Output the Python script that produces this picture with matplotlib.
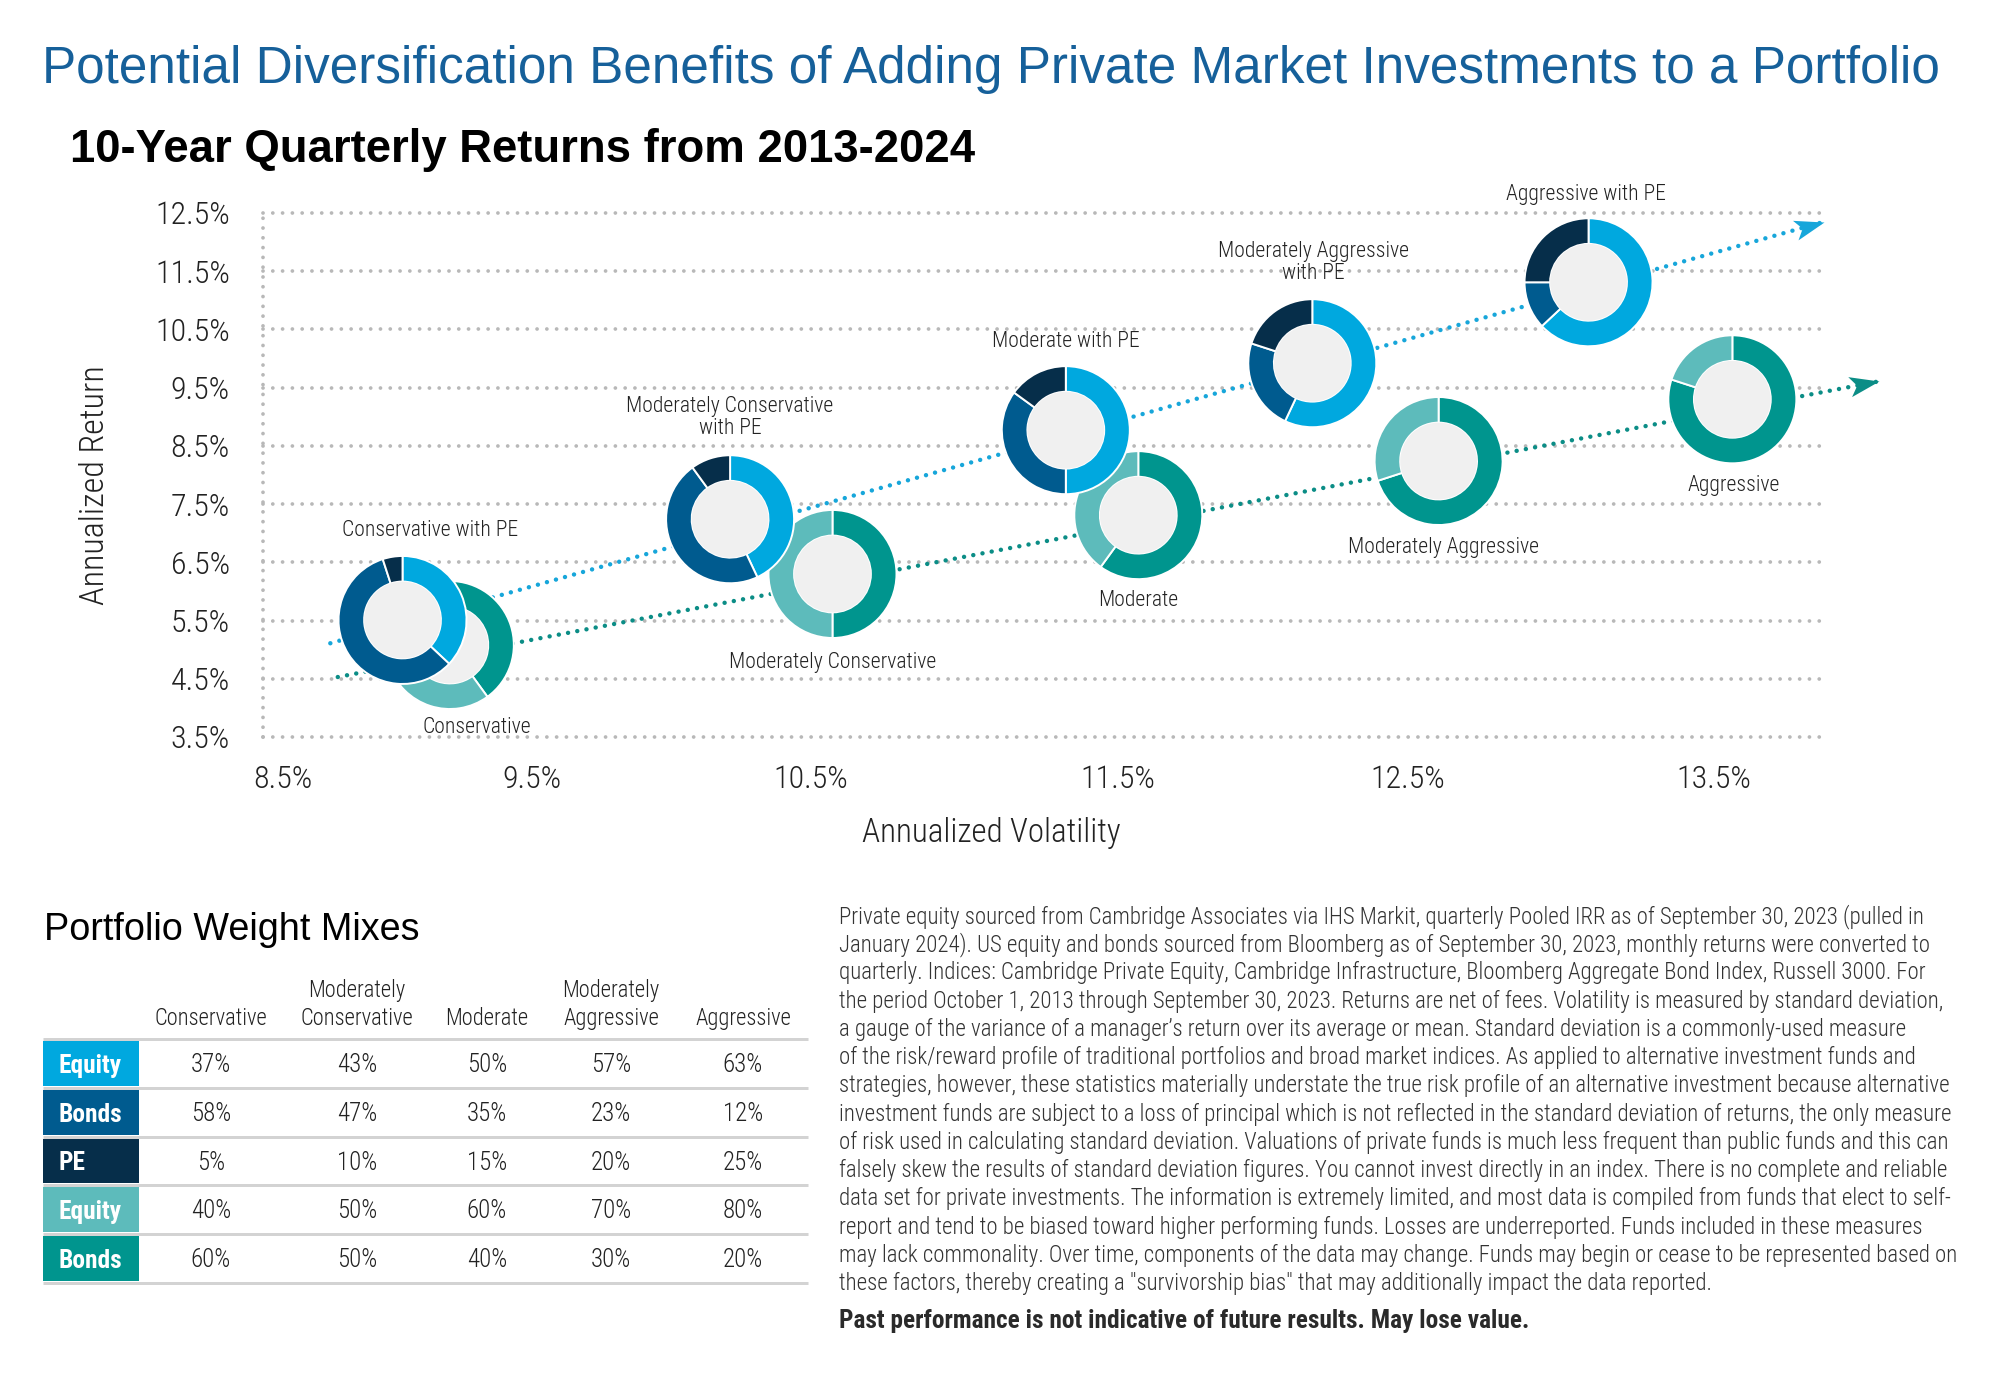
import math
import numpy as np
import matplotlib
matplotlib.use("Agg")
import matplotlib.pyplot as plt
from matplotlib import font_manager
from matplotlib.path import Path
from matplotlib.markers import MarkerStyle
from matplotlib.transforms import Affine2D
from matplotlib.patches import Circle, Rectangle

# ---------------------------------------------------------------- data
pe_labels = ["Conservative with PE", "Moderately Conservative\nwith PE", "Moderate with PE",
             "Moderately Aggressive\nwith PE", "Aggressive with PE"]
trad_labels = ["Conservative", "Moderately Conservative", "Moderate",
               "Moderately Aggressive", "Aggressive"]
header_labels = ["Conservative", "Moderately\nConservative", "Moderate",
                 "Moderately\nAggressive", "Aggressive"]

# annualized volatility (%) / annualized return (%)
pe_vol = [8.98, 10.21, 11.33, 12.17, 13.09]
pe_ret = [5.51, 7.24, 8.77, 9.92, 11.31]
trad_vol = [9.17, 10.57, 11.57, 12.60, 13.56]
trad_ret = [5.08, 6.30, 7.31, 8.24, 9.30]

# portfolio weights (%)
pe_equity = [37, 43, 50, 57, 63]
pe_bonds = [58, 47, 35, 23, 12]
pe_pe = [5, 10, 15, 20, 25]
trad_equity = [40, 50, 60, 70, 80]
trad_bonds = [60, 50, 40, 30, 20]

row_labels = ["Equity", "Bonds", "PE", "Equity", "Bonds"]

x_ticks = [8.5, 9.5, 10.5, 11.5, 12.5, 13.5]
y_ticks = [3.5, 4.5, 5.5, 6.5, 7.5, 8.5, 9.5, 10.5, 11.5, 12.5]

# trend arrows (vol, ret)
trend_pe = [(8.69, 5.11), (13.86, 12.35)]
trend_trad = [(8.72, 4.53), (14.04, 9.61)]

TITLE = "Potential Diversification Benefits of Adding Private Market Investments to a Portfolio"
SUBTITLE = "10-Year Quarterly Returns from 2013-2024"
TABLE_TITLE = "Portfolio Weight Mixes"
FOOTNOTE = [
    "Private equity sourced from Cambridge Associates via IHS Markit, quarterly Pooled IRR as of September 30, 2023 (pulled in",
    "January 2024). US equity and bonds sourced from Bloomberg as of September 30, 2023, monthly returns were converted to",
    "quarterly. Indices: Cambridge Private Equity, Cambridge Infrastructure, Bloomberg Aggregate Bond Index, Russell 3000. For",
    "the period October 1, 2013 through September 30, 2023. Returns are net of fees. Volatility is measured by standard deviation,",
    "a gauge of the variance of a manager\u2019s return over its average or mean. Standard deviation is a commonly-used measure",
    "of the risk/reward profile of traditional portfolios and broad market indices. As applied to alternative investment funds and",
    "strategies, however, these statistics materially understate the true risk profile of an alternative investment because alternative",
    "investment funds are subject to a loss of principal which is not reflected in the standard deviation of returns, the only measure",
    "of risk used in calculating standard deviation. Valuations of private funds is much less frequent than public funds and this can",
    "falsely skew the results of standard deviation figures. You cannot invest directly in an index. There is no complete and reliable",
    "data set for private investments. The information is extremely limited, and most data is compiled from funds that elect to self-",
    "report and tend to be biased toward higher performing funds. Losses are underreported. Funds included in these measures",
    "may lack commonality. Over time, components of the data may change. Funds may begin or cease to be represented based on",
    "these factors, thereby creating a \"survivorship bias\" that may additionally impact the data reported.",
]
BOLD_NOTE = "Past performance is not indicative of future results. May lose value."

# ---------------------------------------------------------------- style
C_EQ = "#00a8df"
C_BD = "#005b8f"
C_PE = "#062e4a"
C_TL = "#5dbbbb"
C_TD = "#00958e"
C_HOLE = "#f0f0f0"
C_GRID = "#b8b8b8"
C_TXT = "#222222"
C_TITLE = "#16609a"

W, H = 2000, 1378
PT = 0.72  # points per pixel at dpi 100

fig = plt.figure(figsize=(W / 100, H / 100), dpi=100)
fig.patch.set_facecolor("white")
renderer = fig.canvas.get_renderer()

names = {f.name for f in font_manager.fontManager.ttflist}


def pick(cands, default):
    for c in cands:
        if c in names:
            return c
    return default


COND = pick(["Roboto Condensed", "Liberation Sans Narrow", "Open Sans Condensed"], "Liberation Sans")
REG = pick(["Liberation Sans", "Arial"], "DejaVu Sans")
LW = "light"


def fit(text, family, target, weight="normal", base=20.0):
    t = fig.text(0, 0, text, fontsize=base, family=family, weight=weight)
    w = t.get_window_extent(renderer=renderer).width
    t.remove()
    return base * target / w


fs_title = fit(TITLE, REG, 1893)
fs_sub = fit(SUBTITLE, REG, 906, weight="bold")
fs_tick = fit("12.5%", COND, 75, weight=LW)
fs_axlab = fit("Annualized Volatility", COND, 258, weight=LW)
fs_lab = fit("Conservative with PE", COND, 176, weight=LW)
fs_ttl = fit(TABLE_TITLE, REG, 374)
fs_head = fit("Conservative", COND, 113, weight=LW)
fs_val = fit("37%", COND, 40, weight=LW)
fs_row = fit("Equity", COND, 63, weight="bold")
fs_foot = fit(FOOTNOTE[3], COND, 1104, weight=LW)
fs_bold = fit(BOLD_NOTE, COND, 692, weight="bold")

# ---------------------------------------------------------------- canvas (text & table)
cv = fig.add_axes([0, 0, 1, 1])
cv.set_xlim(0, W)
cv.set_ylim(H, 0)
cv.axis("off")

cv.text(42, 83, TITLE, fontsize=fs_title, family=REG, color=C_TITLE, va="baseline", ha="left")
cv.text(70, 162, SUBTITLE, fontsize=fs_sub, family=REG, weight="bold", color="black",
        va="baseline", ha="left")
cv.text(991, 842, "Annualized Volatility", fontsize=fs_axlab, family=COND, weight=LW,
        color=C_TXT, ha="center", va="baseline")
cv.text(95, 485, "Annualized Return", fontsize=fs_axlab * 1.03, family=COND, weight=LW,
        color=C_TXT, ha="center", va="center", rotation=90)

# ---------------------------------------------------------------- main chart
AX_L, AX_R, AX_T, AX_B = 263, 1824, 213, 737
ax = fig.add_axes([AX_L / W, 1 - AX_B / H, (AX_R - AX_L) / W, (AX_B - AX_T) / H])
ax.patch.set_visible(False)

tick_px = np.array([283, 532, 811, 1118, 1408, 1714], float)   # label placement on the page
tv = np.array(x_ticks, float)
lo_s = (tick_px[1] - tick_px[0]) / (tv[1] - tv[0])
hi_s = (tick_px[-1] - tick_px[-2]) / (tv[-1] - tv[-2])


def fwd(v):
    v = np.asarray(v, float)
    out = np.interp(v, tv, tick_px)
    out = np.where(v < tv[0], tick_px[0] + (v - tv[0]) * lo_s, out)
    out = np.where(v > tv[-1], tick_px[-1] + (v - tv[-1]) * hi_s, out)
    return out


def inv(p):
    p = np.asarray(p, float)
    out = np.interp(p, tick_px, tv)
    out = np.where(p < tick_px[0], tv[0] + (p - tick_px[0]) / lo_s, out)
    out = np.where(p > tick_px[-1], tv[-1] + (p - tick_px[-1]) / hi_s, out)
    return out


ax.set_xscale("function", functions=(fwd, inv))
x0, x1 = float(inv(AX_L)), float(inv(AX_R))
ax.set_xlim(x0, x1)
ax.set_ylim(y_ticks[0], y_ticks[-1])
for s in ax.spines.values():
    s.set_visible(False)

ax.set_xticks(x_ticks)
ax.set_xticklabels([f"{v:.1f}%" for v in x_ticks])
ax.set_yticks(y_ticks)
ax.set_yticklabels([f"{v:.1f}%" for v in y_ticks])
ax.tick_params(axis="both", length=0, labelsize=fs_tick, labelcolor=C_TXT)
ax.tick_params(axis="y", pad=33 * PT)
ax.tick_params(axis="x", pad=28 * PT)
for lab in ax.get_xticklabels() + ax.get_yticklabels():
    lab.set_family(COND)
    lab.set_fontweight(LW)

grid_ls = (0, (0.01, 2.6))
for yv in y_ticks:
    ax.axhline(yv, color=C_GRID, lw=2.7, ls=grid_ls, dash_capstyle="round", clip_on=False, zorder=1)
ax.axvline(x0, color=C_GRID, lw=2.7, ls=grid_ls, dash_capstyle="round", clip_on=False, zorder=1)

# trend arrows
head = Path([(0, 0), (-1, 0.34), (-0.76, 0), (-1, -0.34), (0, 0)],
            [Path.MOVETO, Path.LINETO, Path.LINETO, Path.LINETO, Path.CLOSEPOLY])
for (p0, p1), col in [(trend_pe, "#17a6da"), (trend_trad, "#0b8d86")]:
    ax.plot([p0[0], p1[0]], [p0[1], p1[1]], color=col, lw=3.2, ls=(0, (0.01, 2.1)),
            dash_capstyle="round", clip_on=False, zorder=3)
    d0 = ax.transData.transform(p0)
    d1 = ax.transData.transform(p1)
    ang = math.degrees(math.atan2(d1[1] - d0[1], d1[0] - d0[0]))
    mk = MarkerStyle(head, transform=Affine2D().rotate_deg(ang))
    ax.plot([p1[0]], [p1[1]], marker=mk, ms=43, color=col, mec="none", ls="none",
            clip_on=False, zorder=4)

# labels
pe_off = [(28, -89), (0, -102), (0, -89), (1, -101), (-3, -88)]
trad_off = [(27, 82), (0, 89), (0, 85), (5, 86), (1, 86)]
for vol, ret, lab, (dx, dy) in list(zip(pe_vol, pe_ret, pe_labels, pe_off)) + \
        list(zip(trad_vol, trad_ret, trad_labels, trad_off)):
    ax.annotate(lab, xy=(vol, ret), xytext=(dx * PT, -dy * PT), textcoords="offset points",
                ha="center", va="center", fontsize=fs_lab, family=COND, weight=LW, color=C_TXT,
                linespacing=1.05, annotation_clip=False, zorder=5)

# donuts
R_OUT = 64
MARG = 4


def donut(vol, ret, fracs, colors):
    px, py = ax.transData.transform((vol, ret))
    size = 2 * (R_OUT + MARG)
    dax = fig.add_axes([(px - size / 2) / W, (py - size / 2) / H, size / W, size / H])
    dax.pie(fracs, colors=colors, startangle=90, counterclock=False, radius=1,
            wedgeprops=dict(width=0.4, edgecolor="white", linewidth=1.4))
    dax.add_patch(Circle((0, 0), 0.6, facecolor=C_HOLE, edgecolor="none", zorder=5))
    lim = (R_OUT + MARG) / R_OUT
    dax.set_xlim(-lim, lim)
    dax.set_ylim(-lim, lim)
    dax.set_aspect("equal")
    dax.axis("off")


for i in range(5):
    donut(trad_vol[i], trad_ret[i], [trad_equity[i], trad_bonds[i]], [C_TD, C_TL])
for i in range(5):
    donut(pe_vol[i], pe_ret[i], [pe_equity[i], pe_bonds[i], pe_pe[i]], [C_EQ, C_BD, C_PE])

# ---------------------------------------------------------------- table
cv.text(44, 940, TABLE_TITLE, fontsize=fs_ttl, family=REG, color="black", va="baseline", ha="left")

T_L, T_R, LAB_W = 43, 808, 96
col_centers = [211, 357, 487, 611, 743]
row_lines = [1039, 1088, 1137, 1185, 1234, 1283]
head_base = [997, 1025]
row_colors = [C_EQ, C_BD, C_PE, C_TL, C_TD]
table_rows = [pe_equity, pe_bonds, pe_pe, trad_equity, trad_bonds]

for cx, hl in zip(col_centers, header_labels):
    parts = hl.split("\n")
    for k, part in enumerate(reversed(parts)):
        cv.text(cx, head_base[1] - 28 * k, part, fontsize=fs_head, family=COND, weight=LW,
                color=C_TXT, ha="center", va="baseline")

cv.hlines(row_lines, T_L, T_R, colors="#d3d3d3", lw=3 * PT)
em_val = fs_val / PT
em_row = fs_row / PT
for r, (lab, col, vals) in enumerate(zip(row_labels, row_colors, table_rows)):
    top, bot = row_lines[r], row_lines[r + 1]
    mid = (top + bot) / 2
    cv.add_patch(Rectangle((T_L, top + 2), LAB_W, bot - top - 4, facecolor=col, edgecolor="none"))
    cv.text(T_L + 15, mid + 0.36 * em_row, lab, fontsize=fs_row, family=COND, weight="bold",
            color="white", ha="left", va="baseline")
    for cx, v in zip(col_centers, vals):
        cv.text(cx, mid + 0.36 * em_val, f"{v}%", fontsize=fs_val, family=COND, weight=LW,
                color=C_TXT, ha="center", va="baseline")

# ---------------------------------------------------------------- footnote
FN_X, FN_Y0, FN_DY = 839, 923, 28.23
for i, line in enumerate(FOOTNOTE):
    cv.text(FN_X, FN_Y0 + i * FN_DY, line, fontsize=fs_foot, family=COND, weight=LW,
            color="#333333", ha="left", va="baseline")
cv.text(FN_X, 1328, BOLD_NOTE, fontsize=fs_bold, family=COND, weight="bold", color="#2a2a2a",
        ha="left", va="baseline")

fig.savefig("out.png", dpi=100, facecolor="white")
